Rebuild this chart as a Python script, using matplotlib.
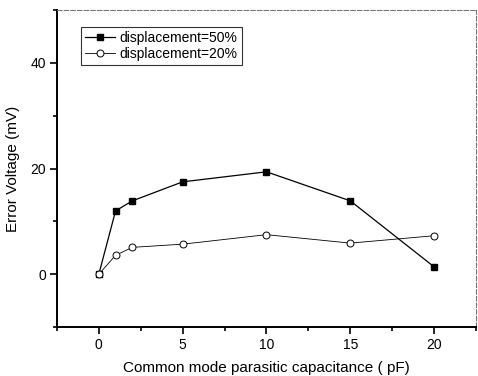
import matplotlib.pyplot as plt
from matplotlib.ticker import MultipleLocator

plt.rcParams["font.family"] = ["Liberation Sans", "DejaVu Sans"]

capacitance = [0, 1, 2, 5, 10, 15, 20]
error_50 = [0.0, 12.0, 13.9, 17.5, 19.4, 13.9, 1.4]
error_20 = [0.0, 3.6, 5.1, 5.7, 7.5, 5.9, 7.3]

fig = plt.figure(figsize=(4.78, 3.76), dpi=100)
ax = fig.add_axes([0.119, 0.130, 0.877, 0.843])

ax.plot(capacitance, error_50, "-s", color="black", linewidth=0.9,
        markersize=5, markerfacecolor="black", label="displacement=50%")
ax.plot(capacitance, error_20, "-o", color="black", linewidth=0.6,
        markersize=5, markerfacecolor="white", markeredgewidth=0.7,
        label="displacement=20%")

ax.set_xlim(-2.5, 22.5)
ax.set_ylim(-10, 50)
ax.xaxis.set_major_locator(MultipleLocator(5))
ax.xaxis.set_minor_locator(MultipleLocator(2.5))
ax.yaxis.set_major_locator(MultipleLocator(20))
ax.yaxis.set_minor_locator(MultipleLocator(10))
ax.tick_params(which="both", direction="out", top=False, right=False,
               labelsize=10, width=1.2, pad=3)
ax.tick_params(which="major", length=5)
ax.tick_params(which="minor", length=3)

for side in ("left", "bottom"):
    ax.spines[side].set_linewidth(1.4)
for side in ("top", "right"):
    ax.spines[side].set_linewidth(0.8)
    ax.spines[side].set_color("#777777")
    ax.spines[side].set_linestyle((0, (4, 2)))

ax.set_xlabel("Common mode parasitic capacitance ( pF)", fontsize=11, labelpad=6)
ax.set_ylabel("Error Voltage (mV)", fontsize=11, labelpad=7)

leg = ax.legend(loc="upper left", bbox_to_anchor=(0.04, 0.97), fontsize=10,
                frameon=True, fancybox=False, handlelength=2.2,
                borderpad=0.3, labelspacing=0.15, handletextpad=0.3)
leg.get_frame().set_edgecolor("black")
leg.get_frame().set_linewidth(0.8)

fig.savefig("out.png", dpi=100)
